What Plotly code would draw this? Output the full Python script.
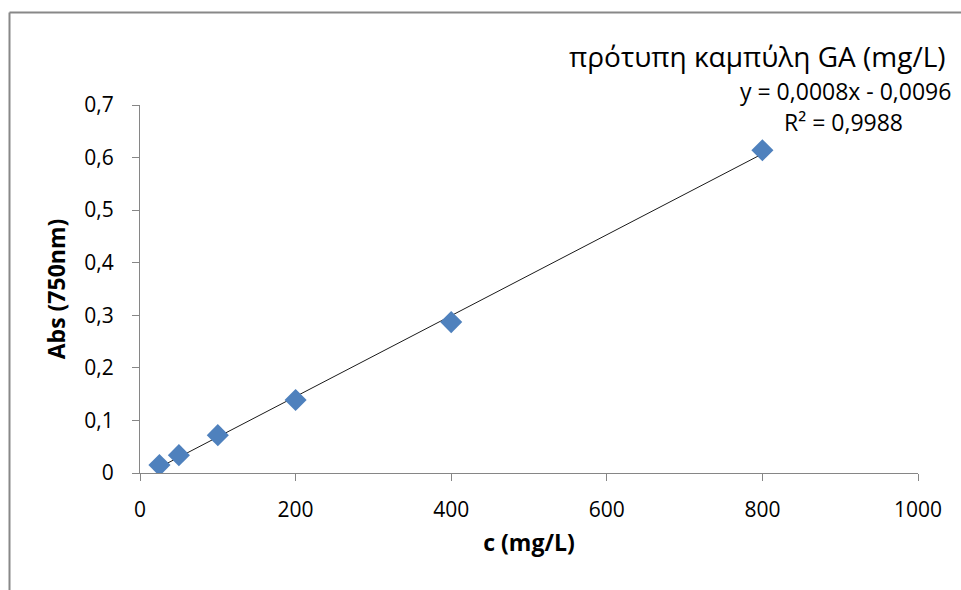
import numpy as np
import plotly.graph_objects as go

conc = [25, 50, 100, 200, 400, 800]
absorb = [0.015, 0.034, 0.072, 0.139, 0.287, 0.614]
x_ticks = [0, 200, 400, 600, 800, 1000]
y_ticks = [0, 0.1, 0.2, 0.3, 0.4, 0.5, 0.6, 0.7]

slope, intercept = np.polyfit(conc, absorb, 1)
fit_x = [min(conc), max(conc)]
fit_y = [slope * v + intercept for v in fit_x]

FONT = "Open Sans"
fig = go.Figure()
fig.add_trace(go.Scatter(x=fit_x, y=fit_y, mode="lines",
                         line=dict(color="#1a1a1a", width=1), showlegend=False, hoverinfo="skip"))
fig.add_trace(go.Scatter(x=conc, y=absorb, mode="markers",
                         marker=dict(symbol="diamond", size=17, color="#4F81BD",
                                     line=dict(width=0)), showlegend=False))

L, R, T, B = 140, 43, 105, 117
W, H = 961, 590
pw, ph = W - L - R, H - T - B
def px(x): return (x - L) / pw
def py(y): return (H - B - y) / ph

fig.update_layout(
    width=W, height=H, margin=dict(l=L, r=R, t=T, b=B),
    paper_bgcolor="white", plot_bgcolor="white",
    separators=",.",
    font=dict(family=FONT, size=21, color="#000000"),
    xaxis=dict(range=[0, 1000], tickvals=x_ticks, showgrid=False, zeroline=False,
               showline=True, linecolor="#868686", linewidth=1,
               ticks="outside", ticklen=7, tickcolor="#868686", ticklabelstandoff=11,
               title=dict(text="<b>c (mg/L)</b>", font=dict(size=23), standoff=12)),
    yaxis=dict(range=[0, 0.7], tickvals=y_ticks, showgrid=False, zeroline=False,
               showline=True, linecolor="#868686", linewidth=1,
               ticks="outside", ticklen=7, tickcolor="#868686", ticklabelstandoff=14,
               title=dict(text="<b>Abs (750nm)</b>", font=dict(size=23), standoff=12)),
    shapes=[
        dict(type="line", xref="paper", yref="paper", x0=px(9.5), x1=px(980), y0=py(12.5), y1=py(12.5),
             line=dict(color="#888888", width=2)),
        dict(type="line", xref="paper", yref="paper", x0=px(9.5), x1=px(9.5), y0=py(12.5), y1=py(600),
             line=dict(color="#888888", width=2)),
    ],
    annotations=[
        dict(text="πρότυπη καμπύλη GA (mg/L)", xref="paper", yref="paper", x=px(948), y=py(56),
             xanchor="right", yanchor="middle", showarrow=False, font=dict(size=28)),
        dict(text="y = 0,0008x - 0,0096", xref="paper", yref="paper", x=px(953), y=py(91),
             xanchor="right", yanchor="middle", showarrow=False, font=dict(size=23)),
        dict(text="R² = 0,9988", xref="paper", yref="paper", x=px(905), y=py(122),
             xanchor="right", yanchor="middle", showarrow=False, font=dict(size=23)),
    ],
)
fig.write_html("out.html")
